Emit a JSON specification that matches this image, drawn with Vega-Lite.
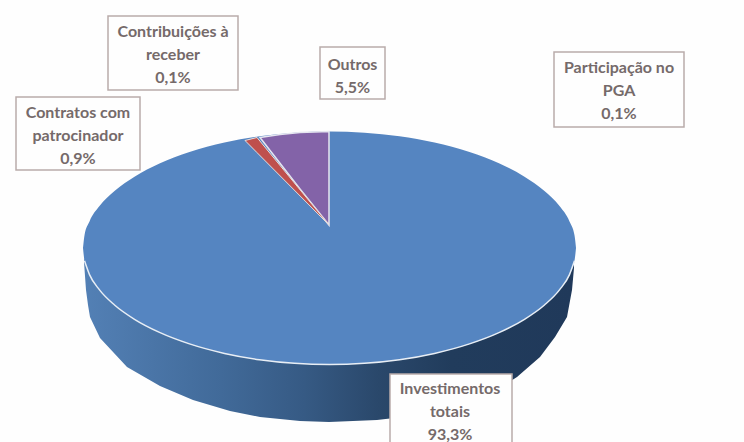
{
"$schema":"https://vega.github.io/schema/vega-lite/v6.json",
"width":744,"height":442,"autosize":"none","padding":0,
"background":"#fefefe","view":{"stroke":null},
"datasets":{
"face":[{"x":83,"yt":248,"yb":248},{"x":84.5,"yt":235.2,"yb":260.8},{"x":89.5,"yt":221.4,"yb":274.6},{"x":99.5,"yt":206.1,"yb":289.9},{"x":114.5,"yt":191,"yb":305},{"x":134.5,"yt":176.7,"yb":319.3},{"x":159.5,"yt":163.6,"yb":332.4},{"x":189.5,"yt":152.1,"yb":343.9},{"x":224.5,"yt":142.6,"yb":353.4},{"x":259.5,"yt":136.3,"yb":359.7},{"x":294.5,"yt":132.7,"yb":363.3},{"x":329.5,"yt":131.5,"yb":364.5},{"x":364.5,"yt":132.7,"yb":363.3},{"x":399.5,"yt":136.3,"yb":359.7},{"x":434.5,"yt":142.6,"yb":353.4},{"x":469.5,"yt":152.1,"yb":343.9},{"x":499.5,"yt":163.6,"yb":332.4},{"x":524.5,"yt":176.7,"yb":319.3},{"x":544.5,"yt":191,"yb":305},{"x":559.5,"yt":206.1,"yb":289.9},{"x":569.5,"yt":221.4,"yb":274.6},{"x":574.5,"yt":235.2,"yb":260.8},{"x":576,"yt":248,"yb":248}],
"side":[{"x":84,"r":258,"b":262},{"x":86,"r":264,"b":290},{"x":88,"r":270,"b":305},{"x":90,"r":275,"b":317},{"x":100,"r":290,"b":338},{"x":127,"r":314,"b":367},{"x":160,"r":332,"b":386},{"x":193,"r":345,"b":400},{"x":230,"r":354,"b":411},{"x":260,"r":359,"b":417},{"x":300,"r":363,"b":421},{"x":329,"r":364,"b":422},{"x":377,"r":362,"b":420},{"x":420,"r":356,"b":415},{"x":460,"r":346,"b":405},{"x":500,"r":332,"b":388},{"x":517,"r":323,"b":377},{"x":540,"r":308,"b":357},{"x":555,"r":295,"b":337},{"x":567,"r":279,"b":317},{"x":572,"r":268,"b":290},{"x":574,"r":262,"b":268}],
"outros":[{"x":260,"yt":137.5,"yb":137.5},{"x":280,"yt":134.5,"yb":163.2},{"x":300,"yt":132.5,"yb":188.9},{"x":329,"yt":131.5,"yb":225}],
"contratos":[{"x":245,"yt":140.5,"yb":140.5},{"x":257,"yt":137.5,"yb":152.6},{"x":329,"yt":225,"yb":225}],
"labels":[
{"lines":["Contribuições à","receber","0,1%"],"x1":108,"x2":238,"y1":16,"y2":90,"cx":173,"cy":32},
{"lines":["Outros","5,5%"],"x1":320,"x2":385,"y1":47,"y2":99,"cx":352.5,"cy":65},
{"lines":["Participação no","PGA","0,1%"],"x1":554,"x2":684,"y1":52,"y2":127,"cx":619,"cy":68},
{"lines":["Contratos com","patrocinador","0,9%"],"x1":16,"x2":140,"y1":97,"y2":170,"cx":78,"cy":113},
{"lines":["Investimentos","totais","93,3%"],"x1":390,"x2":512,"y1":374,"y2":450,"cx":450,"cy":389}
]},
"layer":[
{"data":{"name":"side"},"mark":{"type":"area","color":{"gradient":"linear","x1":0,"x2":1,"y1":0,"y2":0,"stops":[{"offset":0,"color":"#5380b5"},{"offset":0.28,"color":"#416a99"},{"offset":0.45,"color":"#365a84"},{"offset":0.6,"color":"#2a486b"},{"offset":0.75,"color":"#213c5c"},{"offset":1,"color":"#20395a"}]}},
 "encoding":{"x":{"field":"x","type":"quantitative","scale":{"domain":[0,744],"nice":false},"axis":null},"y":{"field":"r","type":"quantitative","scale":{"domain":[442,0],"nice":false},"axis":null},"y2":{"field":"b"}}},
{"data":{"name":"face"},"mark":{"type":"area","color":"#5585c1","interpolate":"monotone"},
 "encoding":{"x":{"field":"x","type":"quantitative"},"y":{"field":"yt","type":"quantitative"},"y2":{"field":"yb"}}},
{"data":{"name":"face"},"transform":[{"filter":"datum.x > 84 && datum.x < 575"}],"mark":{"type":"line","color":"#e8eef5","strokeWidth":1.5,"interpolate":"monotone"},
 "encoding":{"x":{"field":"x","type":"quantitative"},"y":{"field":"yb","type":"quantitative"}}},
{"data":{"name":"outros"},"mark":{"type":"area","color":"#8363a8","stroke":"#e6e6f0","strokeWidth":1.5,"interpolate":"linear"},
 "encoding":{"x":{"field":"x","type":"quantitative"},"y":{"field":"yt","type":"quantitative"},"y2":{"field":"yb"}}},
{"data":{"name":"contratos"},"mark":{"type":"area","color":"#bf504d","stroke":"#e6dcdc","strokeWidth":1,"interpolate":"linear"},
 "encoding":{"x":{"field":"x","type":"quantitative"},"y":{"field":"yt","type":"quantitative"},"y2":{"field":"yb"}}},
{"data":{"name":"labels"},"mark":{"type":"rect","fill":"#fefefe","stroke":"#b9acaa","strokeWidth":1.5},
 "encoding":{"x":{"field":"x1","type":"quantitative"},"x2":{"field":"x2"},"y":{"field":"y1","type":"quantitative"},"y2":{"field":"y2"}}},
{"data":{"name":"labels"},"mark":{"type":"text","font":"Lato","fontSize":16,"fontWeight":"bold","color":"#756a6a","lineHeight":23,"align":"center","baseline":"middle"},
 "encoding":{"x":{"field":"cx","type":"quantitative"},"y":{"field":"cy","type":"quantitative"},"text":{"field":"lines"}}}
]
}
